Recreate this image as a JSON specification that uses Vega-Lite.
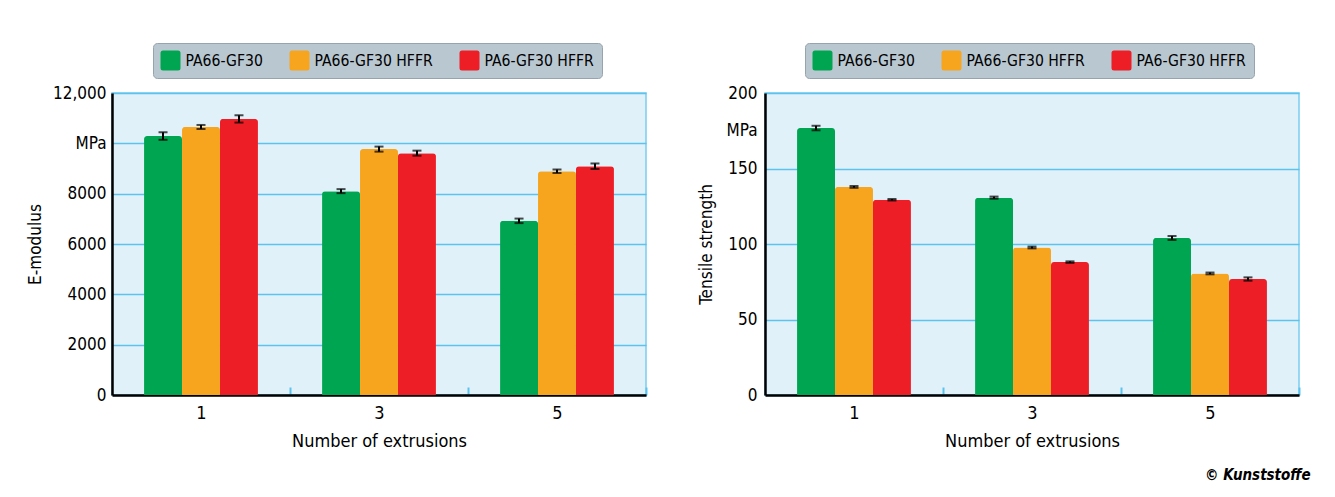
{
  "$schema": "https://vega.github.io/schema/vega-lite/v6.json",
  "background": "white",
  "padding": {"left": 25, "top": 41, "right": 10, "bottom": 5},
  "spacing": 49,
  "title": {"text": "© Kunststoffe", "orient": "bottom", "anchor": "end", "fontSize": 15, "fontWeight": "bold", "fontStyle": "italic", "font": "'DejaVu Sans Condensed', 'DejaVu Sans', sans-serif", "color": "black", "offset": 17, "dx": 10},
  "datasets": {
    "em": [
      {"n": "1", "s": "PA66-GF30", "v": 10290, "lo": 10140, "hi": 10440},
      {"n": "1", "s": "PA66-GF30 HFFR", "v": 10650, "lo": 10570, "hi": 10730},
      {"n": "1", "s": "PA6-GF30 HFFR", "v": 10970, "lo": 10825, "hi": 11115},
      {"n": "3", "s": "PA66-GF30", "v": 8100, "lo": 8020, "hi": 8180},
      {"n": "3", "s": "PA66-GF30 HFFR", "v": 9770, "lo": 9670, "hi": 9870},
      {"n": "3", "s": "PA6-GF30 HFFR", "v": 9610, "lo": 9510, "hi": 9710},
      {"n": "5", "s": "PA66-GF30", "v": 6920, "lo": 6830, "hi": 7010},
      {"n": "5", "s": "PA66-GF30 HFFR", "v": 8890, "lo": 8820, "hi": 8960},
      {"n": "5", "s": "PA6-GF30 HFFR", "v": 9090, "lo": 8980, "hi": 9200}
    ],
    "ts": [
      {"n": "1", "s": "PA66-GF30", "v": 176.8, "lo": 175.3, "hi": 178.3},
      {"n": "1", "s": "PA66-GF30 HFFR", "v": 137.8, "lo": 137.2, "hi": 138.4},
      {"n": "1", "s": "PA6-GF30 HFFR", "v": 129.3, "lo": 128.8, "hi": 129.8},
      {"n": "3", "s": "PA66-GF30", "v": 130.7, "lo": 130.0, "hi": 131.4},
      {"n": "3", "s": "PA66-GF30 HFFR", "v": 97.7, "lo": 97.1, "hi": 98.3},
      {"n": "3", "s": "PA6-GF30 HFFR", "v": 88.0, "lo": 87.5, "hi": 88.5},
      {"n": "5", "s": "PA66-GF30", "v": 104.0, "lo": 102.7, "hi": 105.3},
      {"n": "5", "s": "PA66-GF30 HFFR", "v": 80.5, "lo": 79.9, "hi": 81.1},
      {"n": "5", "s": "PA6-GF30 HFFR", "v": 76.8, "lo": 75.7, "hi": 77.9}
    ]
  },
  "hconcat": [
    {
      "width": 534,
      "height": 302,
      "data": {"name": "em"},
      "encoding": {
        "x": {"field": "n", "type": "nominal", "title": "Number of extrusions", "scale": {"paddingInner": 0.36, "paddingOuter": 0.18},
          "axis": {"tickOffset": 89, "labelOffset": -89}},
        "xOffset": {"field": "s", "type": "nominal", "sort": ["PA66-GF30", "PA66-GF30 HFFR", "PA6-GF30 HFFR"]}
      },
      "layer": [
        {
          "mark": {"type": "bar", "cornerRadiusTopLeft": 3, "cornerRadiusTopRight": 3},
          "encoding": {
            "y": {"field": "v", "type": "quantitative", "title": "E-modulus", "scale": {"domain": [0, 12000], "nice": false},
              "axis": {"values": [0, 2000, 4000, 6000, 8000, 10000, 12000], "format": "d", "labelExpr": "datum.value == 10000 ? 'MPa' : (datum.value == 12000 ? '12,000' : datum.label)", "titlePadding": 8, "labelPadding": 6}},
            "color": {"field": "s", "type": "nominal", "sort": ["PA66-GF30", "PA66-GF30 HFFR", "PA6-GF30 HFFR"],
              "scale": {"domain": ["PA66-GF30", "PA66-GF30 HFFR", "PA6-GF30 HFFR"], "range": ["#00a551", "#f7a51e", "#ee1e26"]},
              "legend": {"orient": "none", "legendX": 41, "legendY": -50, "direction": "horizontal", "title": null}}
          }
        },
        {
          "mark": {"type": "rule", "color": "black", "strokeWidth": 2},
          "encoding": {"y": {"field": "lo", "type": "quantitative", "title": "E-modulus"}, "y2": {"field": "hi"}}
        },
        {
          "mark": {"type": "tick", "color": "black", "thickness": 2, "size": 9},
          "encoding": {"y": {"field": "lo", "type": "quantitative", "title": "E-modulus"}}
        },
        {
          "mark": {"type": "tick", "color": "black", "thickness": 2, "size": 9},
          "encoding": {"y": {"field": "hi", "type": "quantitative", "title": "E-modulus"}}
        }
      ]
    },
    {
      "width": 534,
      "height": 302,
      "data": {"name": "ts"},
      "encoding": {
        "x": {"field": "n", "type": "nominal", "title": "Number of extrusions", "scale": {"paddingInner": 0.36, "paddingOuter": 0.18},
          "axis": {"tickOffset": 89, "labelOffset": -89}},
        "xOffset": {"field": "s", "type": "nominal", "sort": ["PA66-GF30", "PA66-GF30 HFFR", "PA6-GF30 HFFR"]}
      },
      "layer": [
        {
          "mark": {"type": "bar", "cornerRadiusTopLeft": 3, "cornerRadiusTopRight": 3},
          "encoding": {
            "y": {"field": "v", "type": "quantitative", "title": "Tensile strength", "scale": {"domain": [0, 200], "nice": false},
              "axis": {"values": [0, 50, 100, 150, 175, 200], "format": "d", "labelExpr": "datum.value == 175 ? 'MPa' : datum.label", "titlePadding": 10, "labelPadding": 8,
                "gridOpacity": {"condition": {"test": "datum.value == 175", "value": 0}, "value": 1}}},
            "color": {"field": "s", "type": "nominal", "sort": ["PA66-GF30", "PA66-GF30 HFFR", "PA6-GF30 HFFR"],
              "scale": {"domain": ["PA66-GF30", "PA66-GF30 HFFR", "PA6-GF30 HFFR"], "range": ["#00a551", "#f7a51e", "#ee1e26"]},
              "legend": {"orient": "none", "legendX": 40, "legendY": -50, "direction": "horizontal", "title": null}}
          }
        },
        {
          "mark": {"type": "rule", "color": "black", "strokeWidth": 2},
          "encoding": {"y": {"field": "lo", "type": "quantitative", "title": "Tensile strength"}, "y2": {"field": "hi"}}
        },
        {
          "mark": {"type": "tick", "color": "black", "thickness": 2, "size": 9},
          "encoding": {"y": {"field": "lo", "type": "quantitative", "title": "Tensile strength"}}
        },
        {
          "mark": {"type": "tick", "color": "black", "thickness": 2, "size": 9},
          "encoding": {"y": {"field": "hi", "type": "quantitative", "title": "Tensile strength"}}
        }
      ]
    }
  ],
  "resolve": {"legend": {"color": "independent"}},
  "config": {
    "font": "'DejaVu Sans Condensed', 'DejaVu Sans', sans-serif",
    "view": {"fill": "#e0f1fa", "stroke": "#7acdf0", "strokeWidth": 1.5},
    "axis": {
      "labelFont": "'DejaVu Sans Condensed', 'DejaVu Sans', sans-serif",
      "titleFont": "'DejaVu Sans Condensed', 'DejaVu Sans', sans-serif",
      "labelColor": "black", "titleColor": "black", "titleFontWeight": "normal",
      "labelFontSize": 17, "titleFontSize": 17,
      "domainColor": "black", "domainWidth": 2.5,
      "gridColor": "#5cc4ec", "gridWidth": 1.5
    },
    "axisY": {"ticks": false, "grid": true},
    "axisX": {"labelAngle": 0, "labelFontSize": 18, "grid": false, "ticks": true, "tickSize": -8, "tickColor": "#5cc4ec", "tickWidth": 2, "labelPadding": 17, "titlePadding": 10, "titleFontSize": 18},
    "legend": {
      "fillColor": "#b9c7d0", "strokeColor": "#98a4ad", "cornerRadius": 4, "padding": 7.5,
      "columnPadding": 26, "labelOffset": 5, "labelFontSize": 15.6, "labelColor": "black", "labelLimit": 200,
      "labelFont": "'DejaVu Sans Condensed', 'DejaVu Sans', sans-serif",
      "symbolType": "M -0.75,-1 H 0.75 Q 1,-1 1,-0.75 V 0.75 Q 1,1 0.75,1 H -0.75 Q -1,1 -1,0.75 V -0.75 Q -1,-1 -0.75,-1 Z",
      "symbolSize": 400, "symbolStrokeWidth": 0, "symbolOpacity": 1
    }
  }
}
